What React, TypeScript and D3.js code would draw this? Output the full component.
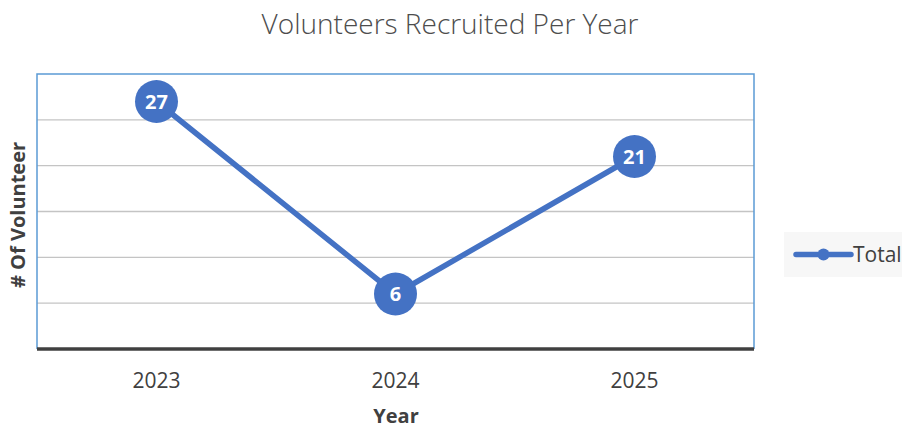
import { useEffect, useRef } from 'react'
import * as d3 from 'd3'

const years = ['2023', '2024', '2025']
const totals = [27, 6, 21]
const yTicks = [0, 5, 10, 15, 20, 25, 30]

const BLUE = '#4472C4'
const FONT = '"Open Sans", "Noto Sans", sans-serif'

export default function App() {
  const ref = useRef<SVGSVGElement>(null)

  useEffect(() => {
    const svg = d3.select(ref.current)
    svg.selectAll('*').remove()

    const width = 902
    const height = 428
    const plot = { left: 37, right: 754, top: 74, bottom: 349 }

    const x = d3.scaleBand().domain(years).range([plot.left, plot.right])
    const y = d3.scaleLinear().domain([0, 30]).range([plot.bottom, plot.top])

    svg.attr('viewBox', `0 0 ${width} ${height}`)

    svg.append('rect').attr('width', width).attr('height', height).attr('fill', '#fff')

    // title
    svg.append('text')
      .attr('x', 450).attr('y', 34)
      .attr('text-anchor', 'middle')
      .style('font-family', FONT)
      .style('font-size', '28px')
      .style('font-weight', 300)
      .attr('fill', '#4d4d4d')
      .text('Volunteers Recruited Per Year')

    // gridlines
    svg.append('g').selectAll('line')
      .data(yTicks.filter(t => t > 0 && t < 30))
      .enter().append('line')
      .attr('x1', plot.left).attr('x2', plot.right)
      .attr('y1', d => y(d)).attr('y2', d => y(d))
      .attr('stroke', '#c4c4c4').attr('stroke-width', 1.3)

    // plot border (left, top, right)
    svg.append('path')
      .attr('d', `M${plot.left},${plot.bottom}V${plot.top}H${plot.right}V${plot.bottom}`)
      .attr('fill', 'none').attr('stroke', '#5B9BD5').attr('stroke-width', 1.5)

    // baseline
    svg.append('line')
      .attr('x1', plot.left).attr('x2', plot.right)
      .attr('y1', y(0)).attr('y2', y(0))
      .attr('stroke', '#404040').attr('stroke-width', 3.5)

    // x tick labels
    svg.append('g').selectAll('text')
      .data(years).enter().append('text')
      .attr('x', d => x(d)! + x.bandwidth() / 2)
      .attr('y', 388)
      .attr('text-anchor', 'middle')
      .style('font-family', FONT).style('font-size', '21px')
      .attr('fill', '#404040')
      .text(d => d)

    // axis titles
    svg.append('text')
      .attr('x', 396).attr('y', 423)
      .attr('text-anchor', 'middle')
      .style('font-family', FONT).style('font-size', '20px').style('font-weight', 700)
      .attr('fill', '#404040')
      .text('Year')

    svg.append('text')
      .attr('transform', 'translate(25,215) rotate(-90)')
      .attr('text-anchor', 'middle')
      .style('font-family', FONT).style('font-size', '20px').style('font-weight', 700)
      .attr('fill', '#404040')
      .text('# Of Volunteer')

    // line
    const pts = years.map((yr, i) => [x(yr)! + x.bandwidth() / 2, y(totals[i])] as [number, number])
    svg.append('path')
      .attr('d', d3.line()(pts))
      .attr('fill', 'none').attr('stroke', BLUE).attr('stroke-width', 5.5)
      .attr('stroke-linejoin', 'round').attr('stroke-linecap', 'round')

    const marks = svg.append('g').selectAll('g')
      .data(pts).enter().append('g')
      .attr('transform', d => `translate(${d[0]},${d[1]})`)
    marks.append('circle').attr('r', 21.5).attr('fill', BLUE)
    marks.append('text')
      .attr('text-anchor', 'middle').attr('dy', '0.36em')
      .style('font-family', FONT).style('font-size', '20px').style('font-weight', 700)
      .attr('fill', '#fff')
      .text((d, i) => String(totals[i]))

    // legend
    const lg = svg.append('g').attr('transform', 'translate(784,232)')
    lg.append('rect').attr('width', 118).attr('height', 45).attr('fill', '#f7f7f7')
    lg.append('line').attr('x1', 12).attr('x2', 67).attr('y1', 22.5).attr('y2', 22.5)
      .attr('stroke', BLUE).attr('stroke-width', 5.5).attr('stroke-linecap', 'round')
    lg.append('circle').attr('cx', 39.5).attr('cy', 22.5).attr('r', 6).attr('fill', BLUE)
    lg.append('text').attr('x', 69).attr('y', 22.5).attr('dy', '0.36em')
      .style('font-family', FONT).style('font-size', '21px')
      .attr('fill', '#404040')
      .text('Total')
  }, [])

  return <svg ref={ref} width={902} height={428} style={{ display: 'block', position: 'absolute', left: 0, top: 0 }} />
}
